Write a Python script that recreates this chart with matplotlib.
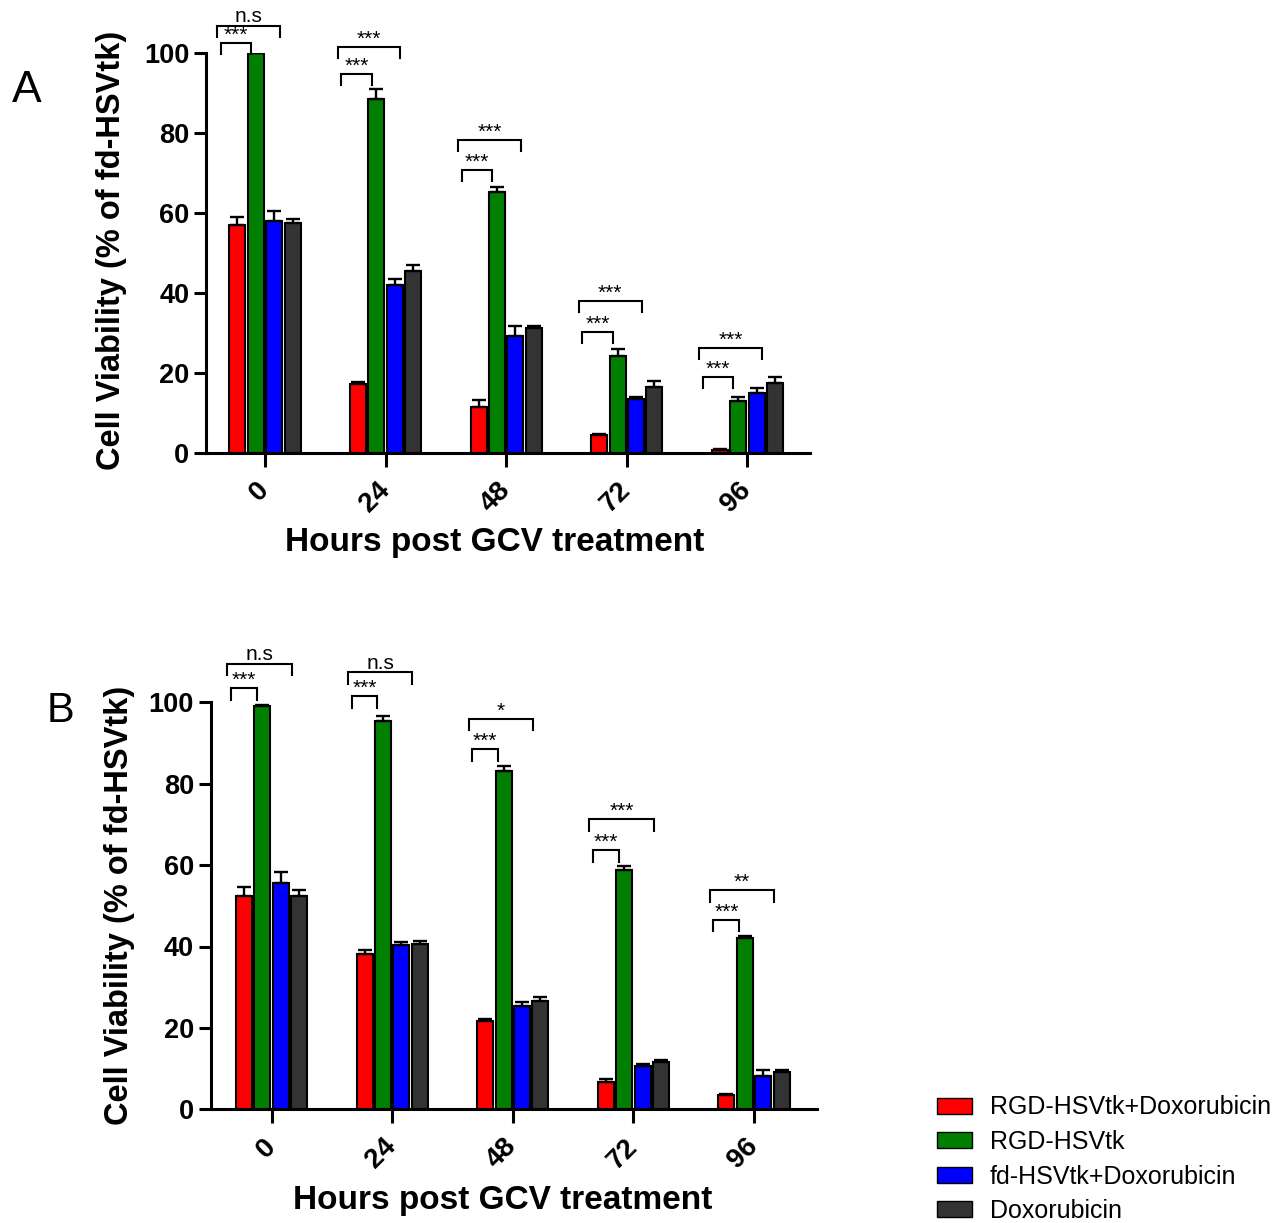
import matplotlib
matplotlib.use('Agg')
import matplotlib.pyplot as plt
from matplotlib.patches import Patch
import numpy as np

plt.rcParams['font.family'] = ['Liberation Sans', 'DejaVu Sans']

# ---------------- data ----------------
hours = ['0', '24', '48', '72', '96']
series = ['RGD-HSVtk+Doxorubicin', 'RGD-HSVtk', 'fd-HSVtk+Doxorubicin', 'Doxorubicin']
colors = ['#ff0000', '#007f00', '#0000ff', '#333333']

# Panel A
a_red = [57.0, 17.2, 11.5, 4.5, 0.8]
a_red_err = [2.0, 0.5, 1.7, 0.3, 0.3]
a_green = [100.0, 88.5, 65.2, 24.3, 13.0]
a_green_err = [0.0, 2.5, 1.2, 1.6, 1.0]
a_blue = [58.0, 42.0, 29.3, 13.6, 14.9]
a_blue_err = [2.5, 1.5, 2.5, 0.3, 1.4]
a_dark = [57.5, 45.6, 31.2, 16.5, 17.5]
a_dark_err = [1.0, 1.5, 0.5, 1.5, 1.5]
a_sig_small = ['***', '***', '***', '***', '***']
a_sig_large = ['n.s', '***', '***', '***', '***']
# bracket levels (value where the bracket legs end)
a_level_small = [99.8, 92.0, 67.9, 27.4, 16.3]
a_level_large = [104.0, 98.7, 75.4, 35.2, 23.4]

# Panel B
b_red = [52.5, 38.1, 21.6, 6.6, 3.5]
b_red_err = [2.0, 1.0, 0.7, 0.8, 0.3]
b_green = [99.0, 95.5, 83.1, 58.9, 42.0]
b_green_err = [0.3, 1.2, 1.2, 0.8, 0.7]
b_blue = [55.7, 40.3, 25.3, 10.6, 8.2]
b_blue_err = [2.5, 0.7, 1.0, 0.5, 1.4]
b_dark = [52.5, 40.5, 26.7, 11.7, 9.2]
b_dark_err = [1.5, 0.8, 0.9, 0.3, 0.4]
b_sig_small = ['***', '***', '***', '***', '***']
b_sig_large = ['n.s', 'n.s', '*', '***', '**']
b_level_small = [100.6, 98.6, 85.6, 60.8, 43.7]
b_level_large = [106.6, 104.5, 93.1, 68.5, 50.9]

# ---------------- figure ----------------
W, H = 1278, 1223
fig = plt.figure(figsize=(W / 100, H / 100), dpi=100)

step = 0.153     # distance between bar centres
bw = 0.133       # bar width


def bracket(ax, x1, x2, lo, leg, text):
    y = lo + leg
    ax.plot([x1, x1, x2, x2], [lo, y, y, lo], color='black',
            lw=1.5, clip_on=False, solid_joinstyle='miter')
    dy = 2.5 if text == 'n.s' else 1.5
    ax.annotate(text, ((x1 + x2) / 2, y), xytext=(0, dy),
                textcoords='offset points', ha='center', va='baseline',
                fontsize=15, annotation_clip=False)


def panel(ax, vals, errs, sig_small, sig_large, lev_small, lev_large,
          small_x, large_x, leg, xlim):
    x = np.arange(len(hours))
    for k, (v, e, c) in enumerate(zip(vals, errs, colors)):
        xs = x + (k - 1.5) * step
        ax.bar(xs, v, bw, color=c, edgecolor='black', linewidth=1.5, zorder=2)
        ax.errorbar(xs, v, yerr=[np.zeros(len(e)), e], fmt='none',
                    ecolor='black', elinewidth=1.7, capsize=5, capthick=1.7, zorder=3)

    for i in range(len(hours)):
        bracket(ax, i + small_x[0] * step, i + small_x[1] * step,
                lev_small[i], leg, sig_small[i])
        bracket(ax, i + large_x[0] * step, i + large_x[1] * step,
                lev_large[i], leg, sig_large[i])

    ax.set_xlim(*xlim)
    ax.set_ylim(0, 100)
    ax.set_yticks([0, 20, 40, 60, 80, 100])
    ax.set_xticks(x)
    ax.set_xticklabels(hours, rotation=45, ha='right', va='center',
                       rotation_mode='anchor')
    for s in ['top', 'right']:
        ax.spines[s].set_visible(False)
    for s in ['left', 'bottom']:
        ax.spines[s].set_linewidth(2.2)
    ax.tick_params(axis='y', length=9, width=2.2, pad=3, labelsize=19.5)
    ax.tick_params(axis='x', length=10, width=2.2, pad=14, labelsize=20)
    for lab in ax.get_xticklabels() + ax.get_yticklabels():
        lab.set_fontweight('bold')
    ax.set_ylabel('Cell Viability (% of fd-HSVtk)', fontsize=23.5, fontweight='bold')
    ax.set_xlabel('Hours post GCV treatment', fontsize=24, fontweight='bold', va='top')


axA = fig.add_axes([206 / W, 1 - 453 / H, 604 / W, 400 / H])
panel(axA, [a_red, a_green, a_blue, a_dark],
      [a_red_err, a_green_err, a_blue_err, a_dark_err],
      a_sig_small, a_sig_large, a_level_small, a_level_large,
      (-2.4, -0.75), (-2.6, 0.8), 2.8, (-0.49, 4.52))
axA.yaxis.set_label_coords(-0.131, 0.507)
axA.xaxis.set_label_coords(0.478, -0.185)

axB = fig.add_axes([210.7 / W, 1 - 1109.3 / H, 606 / W, 407 / H])
panel(axB, [b_red, b_green, b_blue, b_dark],
      [b_red_err, b_green_err, b_blue_err, b_dark_err],
      b_sig_small, b_sig_large, b_level_small, b_level_large,
      (-2.2, -0.8), (-2.4, 1.1), 2.9, (-0.505, 4.52))
axB.yaxis.set_label_coords(-0.125, 0.5)
axB.xaxis.set_label_coords(0.482, -0.185)

fig.text(12 / W, 1 - 101.7 / H, 'A', fontsize=32, va='baseline')
fig.text(47 / W, 1 - 722 / H, 'B', fontsize=30, va='baseline')

handles = [Patch(facecolor=c, edgecolor='black', linewidth=1.0) for c in colors]
fig.legend(handles, series, loc='lower left', bbox_to_anchor=(937 / W, 0.0),
           frameon=False, fontsize=18, handlelength=1.4, handleheight=0.6,
           handletextpad=0.7, labelspacing=0.42, borderpad=0, borderaxespad=0)

fig.savefig('out.png', dpi=100)
